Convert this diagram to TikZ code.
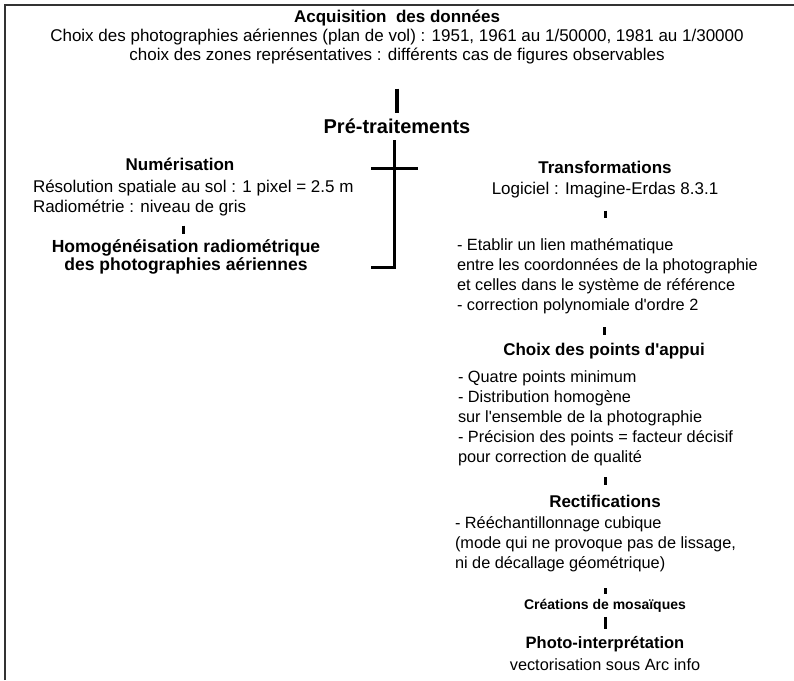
\documentclass[tikz,border=0pt]{standalone}
\usepackage{fontspec}
\setmainfont{Liberation Sans}
\usetikzlibrary{calc}
\newcommand{\apo}{\textquotesingle}
\begin{document}
\begin{tikzpicture}[x=1pt,y=-1pt,
  txt/.style={inner sep=0pt, outer sep=0pt, anchor=base, font=\fontsize{17}{19}\selectfont},
  ltxt/.style={inner sep=0pt, outer sep=0pt, anchor=base west, align=left, font=\fontsize{17}{20}\selectfont},
  rtxt/.style={inner sep=0pt, outer sep=0pt, anchor=base west, align=left, font=\fontsize{16.3}{20}\selectfont},
  head/.style={inner sep=0pt, outer sep=0pt, anchor=base, align=center, font=\bfseries\fontsize{17}{20}\selectfont},
  bigbar/.style={line width=4pt},
  crossline/.style={line width=3pt},
  sbar/.style={line width=3pt},
  framel/.style={line width=2pt, black!80}]
\useasboundingbox (0,0) rectangle (794,680);
\draw[framel] (5,680) -- (5,5) -- (794,5);

% top block (base = last line's baseline)
\node[txt, align=center] (acq) at (397,60) {\textbf{Acquisition\ \ des données}\\
Choix des photographies aériennes (plan de vol) : 1951, 1961 au 1/50000, 1981 au 1/30000\\
choix des zones représentatives : différents cas de figures observables};
\node[head, font=\bfseries\fontsize{20}{22}\selectfont] (pre) at (397,133) {Pré-traitements};
\draw[bigbar] ($(acq.south)+(0,25)$) -- ($(pre.north)+(0,-5)$);

% left column
\node[head] (num) at (180,170) {Numérisation};
\node[ltxt] (res) at (33,212) {Résolution spatiale au sol : 1 pixel = 2.5 m\\Radiométrie : niveau de gris};
\node[head, font=\bfseries\fontsize{17.5}{18}\selectfont] (homog) at (186,270) {Homogénéisation radiométrique\\des photographies aériennes};

% cross bracket under "Pré-traitements"
\coordinate (ctop) at (394,140);
\coordinate (cbot) at (394,267);
\coordinate (hook) at (371,267);
\coordinate (hl) at (371,168);
\coordinate (hr) at (418,168);
\draw[crossline] (ctop) -- (cbot) -- (hook);
\draw[crossline] (hl) -- (hr);

% right column
\node[head, font=\fontsize{17}{21}\selectfont] (trans) at (605,194) {\textbf{Transformations}\\Logiciel : Imagine-Erdas 8.3.1};
\node[rtxt] (b1) at (457,310) {- Etablir un lien mathématique\\entre les coordonnées de la photographie\\et celles dans le système de référence\\- correction polynomiale d\apo ordre 2};
\node[head] (choix) at (604,355) {Choix des points d\apo appui};
\node[rtxt] (b2) at (458,462) {- Quatre points minimum\\- Distribution homogène\\sur l\apo ensemble de la photographie\\- Précision des points = facteur décisif\\pour correction de qualité};
\node[head] (rect) at (605,507) {Rectifications};
\node[rtxt] (b3) at (455,568) {- Rééchantillonnage cubique\\(mode qui ne provoque pas de lissage,\\ni de décallage géométrique)};
\node[head, font=\bfseries\fontsize{14}{16}\selectfont] (mos) at (605,609) {Créations de mosaïques};
\node[head, font=\bfseries\fontsize{16.5}{18}\selectfont] (photo) at (605,648) {Photo-interprétation};
\node[txt, font=\fontsize{16.3}{18}\selectfont] (vect) at (605,670) {vectorisation sous Arc info};

% small connectors
\draw[sbar] (res.south -| 183,0) ++(0,10) -- ++(0,8);
\draw[sbar] (trans.south) ++(0,13) -- ++(0,7);
\draw[sbar] (b1.south -| choix) ++(0,14) -- ++(0,8);
\draw[sbar] (b2.south -| rect) ++(0,12) -- ++(0,8);
\draw[sbar] (b3.south -| mos) ++(0,17) -- ++(0,6);
\draw[sbar] (mos.south) ++(0,5) -- ++(0,12);
\end{tikzpicture}
\end{document}
